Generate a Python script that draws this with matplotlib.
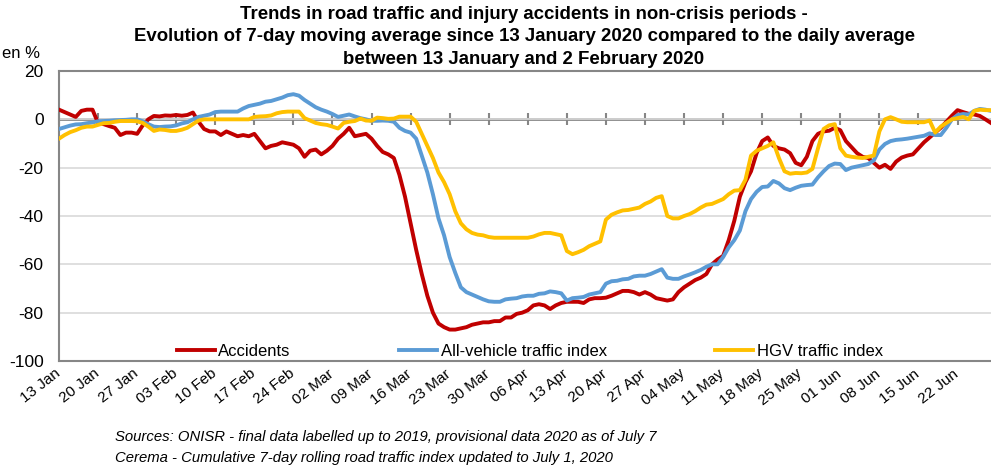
import numpy as np
import pandas as pd
import matplotlib
matplotlib.use("Agg")
import matplotlib.pyplot as plt
import matplotlib.transforms as mtransforms

plt.rcParams['font.family'] = ['Liberation Sans', 'DejaVu Sans']
plt.rcParams['axes.unicode_minus'] = False

# daily values, 13 Jan 2020 -> 28 Jun 2020 (in %)
dates = pd.date_range('2020-01-13', '2020-06-28', freq='D')

accidents = [
    4, 3, 2, 1, 3.5, 4, 4, -1.5, -2, -2.8,
    -3.5, -6.5, -5.5, -5.5, -6, -2.5, 0, 1.4, 1.2, 1.6,
    1.5, 1.8, 1.5, 1.8, 2.8, -1, -4, -5, -5, -6.5,
    -5, -6, -7, -6.5, -7, -6, -9, -12, -11, -10.5,
    -9.5, -10, -10.5, -12, -15.5, -13, -12.5, -14.5, -13, -11,
    -8, -6, -3.5, -7, -6.5, -6, -8, -11, -13.5, -14.5,
    -16, -23, -32, -43, -54, -64, -73, -80, -84.5, -86,
    -87, -87, -86.5, -86, -85, -84.5, -84, -84, -83.5, -83.5,
    -82, -82, -80.5, -80, -79, -77, -76.5, -77, -78.5, -77,
    -76, -75.5, -75.5, -75.5, -76, -74.5, -74, -74, -73.8, -73,
    -72, -71, -71, -71.5, -72.5, -71.5, -72.5, -74, -74.5, -75,
    -74.5, -71.5, -69.5, -68, -66.5, -65.5, -64, -60, -58, -56.5,
    -50, -42, -32, -26, -21.5, -14, -9, -7.5, -11, -12,
    -12.5, -14, -18, -19, -15.5, -9, -6, -5, -4.7, -3.5,
    -4.5, -9, -11.5, -14, -15.5, -16, -18, -20, -18.8, -20.5,
    -17.5, -15.8, -15, -14.5, -12, -9.5, -7.5, -5.5, -3.5, -1,
    1.5, 3.8, 3, 2.3, 2, 1.4, 0, -1.5,
]

all_vehicles = [
    -4, -3.3, -2.6, -2.1, -2, -1.6, -1.3, -0.8, -0.7, -0.6,
    -0.4, -0.3, -0.2, 0, 0, -0.8, -2, -3, -3.2, -3,
    -2.9, -2.5, -1.7, -1.2, 0, 1, 1.5, 2, 3, 3.2,
    3.2, 3.2, 3.2, 4.5, 5.5, 6, 6.5, 7.3, 7.6, 8.3,
    9, 10, 10.4, 9.8, 8, 6.5, 5, 4, 3.2, 2.2,
    1, 1.5, 2, 1.2, 0.5, 0, -0.6, -0.6, -0.5, -0.6,
    -1, -3.5, -4.8, -5.5, -8, -15, -22, -31, -41, -48,
    -57, -63.5, -69.5, -71.5, -72.5, -73.5, -74.5, -75.3, -75.5, -75.5,
    -74.5, -74.2, -74, -73.3, -73, -73, -72.2, -72, -71.2, -71.5,
    -72, -75, -74, -73.8, -73.5, -72.5, -72, -71.5, -68, -67,
    -66.8, -66.2, -66, -65, -64.7, -64.7, -64, -63, -62, -65.5,
    -66, -66, -65, -64.2, -63.3, -62.3, -61, -60, -60, -57,
    -53, -50, -46, -38, -33, -30, -28, -27.8, -25.5, -26.5,
    -28.5, -29.3, -28.3, -27.5, -27.2, -27, -24, -21.5, -19.3, -18.3,
    -18.5, -21, -20, -19.5, -19, -18.5, -17, -12.5, -10.2, -9,
    -8.5, -8.3, -8, -7.6, -7.2, -6.8, -5.8, -6.5, -6.5, -3.5,
    0, 1.7, 2.2, 2, 3.5, 4.3, 4, 3.5,
]

hgv = [
    -8, -6.5, -5.3, -4.5, -3.5, -3, -3, -2.3, -1.6, -1.5,
    -1, -0.7, -0.7, -0.7, -0.8, -1.5, -3, -4.8, -4.2, -4.4,
    -4.8, -4.8, -4.3, -3.5, -2, -0.5, 0, 0, 0, 0,
    0, 0, 0, 0, 0, 1, 1.2, 1.3, 1.6, 2.5,
    3, 3.2, 3.2, 3.2, 0.5, -0.5, -1.5, -2, -2.3, -3,
    -3.8, -1.5, -1, -0.7, 0.3, -0.5, -0.6, 0.7, 0.5, 0.2,
    0.3, 1.1, 1.1, 1.1, -1, -6, -11, -16, -22, -26,
    -31, -38, -43, -45.5, -47, -47.7, -48, -48.7, -49, -49,
    -49, -49, -49, -49, -49, -48.5, -47.6, -47, -47, -47.5,
    -48, -54.5, -55.8, -55, -54, -52.5, -51.5, -50.5, -41.5, -39.5,
    -38.5, -37.7, -37.5, -37, -36.5, -35, -34, -32.5, -31.8, -40,
    -41, -41, -40, -39.2, -38, -36.5, -35.3, -35, -34, -33,
    -31, -29.5, -29.3, -25, -15, -13, -12, -11, -9.5, -16,
    -21.5, -22.5, -22.2, -22.3, -22, -20.5, -12, -4, -2.5, -2,
    -12, -15, -15.5, -15.8, -16, -15.5, -15, -5, 0, 0.9,
    0, -1, -1.2, -1.2, -1.2, -1.2, -0.5, -5.5, -3, -1.5,
    0, 0.5, 1, 0, 3.5, 4, 3.8, 3.8,
]

tick_dates = pd.date_range('2020-01-13', '2020-06-22', freq='7D')
tick_labels = [d.strftime('%d %b') for d in tick_dates]

series = [
    ('Accidents', accidents, '#C00000'),
    ('All-vehicle traffic index', all_vehicles, '#5B9BD5'),
    ('HGV traffic index', hgv, '#FFC000'),
]

fig = plt.figure(figsize=(9.91, 4.70), dpi=100)
ax = fig.add_axes([59 / 991, 109 / 470, 932 / 991, 290 / 470])

for name, vals, col in series:
    ax.plot(dates, vals, color=col, lw=2.8, label=name, solid_joinstyle='round', zorder=3)

ax.set_ylim(-100, 20)
ax.set_xlim(dates[0], dates[-1])
ax.set_yticks(np.arange(-100, 21, 20))
ax.grid(axis='y', color='#d9d9d9', lw=1.2)
ax.set_axisbelow(True)
ax.tick_params(axis='y', length=0, pad=11, labelsize=12.5)

ax.set_xticks(tick_dates)
ax.set_xticklabels(tick_labels, rotation=38, ha='right', rotation_mode='anchor', fontsize=11)
ax.tick_params(axis='x', length=0, pad=4)
shift = mtransforms.ScaledTranslation(-5 / 100, 0, fig.dpi_scale_trans)
for lbl in ax.get_xticklabels():
    lbl.set_transform(lbl.get_transform() + shift)

for s in ['left', 'top', 'bottom']:
    ax.spines[s].set_color('#868686')
    ax.spines[s].set_linewidth(1.5)
ax.spines['right'].set_visible(False)

# category axis crossing at zero, with its tick marks
zax = ax.secondary_xaxis(100 / 120)
zax.set_xticks(tick_dates)
zax.set_xticklabels([])
zax.tick_params(axis='x', direction='inout', length=9, width=1.5, color='#868686')
zax.spines['bottom'].set_color('#868686')
zax.spines['bottom'].set_linewidth(2)
zax.spines['top'].set_color('#868686')
zax.spines['top'].set_linewidth(2)

ax.legend(loc='lower center', bbox_to_anchor=(0.505, -0.015), ncol=3, frameon=False,
          fontsize=12, handlelength=2.3, handletextpad=0.2, columnspacing=6.5,
          borderaxespad=0.0)

fig.text(0.0025, 1 - 53 / 470, 'en %', fontsize=12, va='center', ha='left')

title = ('Trends in road traffic and injury accidents in non-crisis periods -\n'
         'Evolution of 7-day moving average since 13 January 2020 compared to the daily average\n'
         'between 13 January and 2 February 2020')
fig.text(524 / 991, 1 - 6 / 470, title, fontsize=13.4, fontweight='bold', ha='center', va='top',
         linespacing=1.42)

fig.text(115 / 991, 1 - 437 / 470,
         'Sources: ONISR - final data labelled up to 2019, provisional data 2020 as of July 7',
         fontsize=10.7, style='italic', va='center')
fig.text(115 / 991, 1 - 458 / 470,
         'Cerema - Cumulative 7-day rolling road traffic index updated to July 1, 2020',
         fontsize=10.7, style='italic', va='center')

fig.savefig('out.png', dpi=100)
